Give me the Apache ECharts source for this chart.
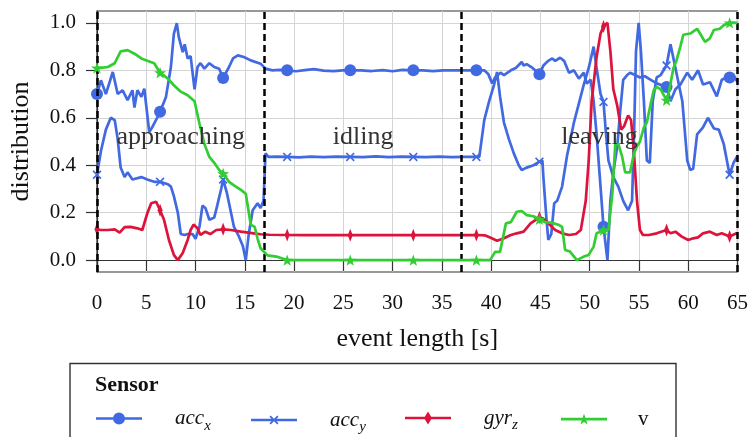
<!DOCTYPE html>
<html>
<head>
<meta charset="utf-8">
<script src="https://cdn.jsdelivr.net/npm/echarts@6/dist/echarts.min.js"></script>
<style>
  html, body { margin: 0; padding: 0; background: #fff; }
  #chart { width: 751px; height: 437px; }
</style>
</head>
<body>
<div id="chart"></div>
<script>
// Sample times [s] that carry a marker on every sensor trace
const markerTimes = [0, 6.4, 12.8, 19.3, 25.7, 32.1, 38.5, 44.9, 51.4, 57.8, 64.2];

// Phase boundaries [s] and phase names
const phaseBounds = [0, 17, 37, 65];
const phaseNames = ['approaching', 'idling', 'leaving'];
const phaseLabelY = 0.52;

// y-axis tick values
const yTicks = [0, 0.2, 0.4, 0.6, 0.8, 1.0];

// acc_x: [time s, distribution]
const accX = [
  [0,0.70],[0.4,0.758],[0.9,0.70],[1.6,0.793],[2.1,0.70],[2.6,0.716],[3.1,0.674],[3.6,0.716],[3.8,0.643],
  [4.1,0.716],[4.5,0.688],[4.8,0.723],[5.3,0.54],[5.6,0.56],[6.1,0.60],[6.4,0.625],[7.0,0.688],[7.5,0.814],
  [7.8,0.954],[8.1,0.999],[8.3,0.94],[8.7,0.877],[8.9,0.91],[9.2,0.85],[9.5,0.86],[9.9,0.72],[10.2,0.814],
  [10.5,0.83],[10.9,0.807],[11.4,0.83],[11.9,0.814],[12.4,0.807],[12.8,0.768],[13.4,0.814],[13.8,0.85],
  [14.3,0.863],[14.9,0.856],[15.6,0.842],[16.6,0.828],[17.1,0.807],[17.8,0.80],[18.5,0.802],[19.3,0.80],
  [20.2,0.796],[21.1,0.801],[22.0,0.805],[23.0,0.799],[24.0,0.797],[24.9,0.80],[25.7,0.80],[26.8,0.80],
  [27.9,0.797],[29.0,0.801],[30.0,0.796],[31.0,0.802],[32.1,0.80],[33.1,0.80],[34.1,0.797],[35.1,0.80],
  [36.1,0.80],[37.2,0.80],[38.5,0.80],[39.3,0.80],[39.7,0.785],[40.1,0.745],[40.4,0.77],[40.95,0.79],
  [41.3,0.78],[42.0,0.80],[42.5,0.81],[43.1,0.835],[43.3,0.82],[43.6,0.826],[44.2,0.81],[44.9,0.783],
  [45.3,0.82],[45.8,0.84],[46.2,0.85],[46.5,0.84],[47.0,0.853],[47.4,0.84],[47.9,0.79],[48.4,0.80],
  [48.9,0.765],[49.4,0.79],[49.7,0.744],[50.1,0.76],[50.4,0.67],[50.7,0.53],[51.1,0.31],[51.4,0.141],
  [51.8,0.0],[52.1,0.25],[52.4,0.37],[52.8,0.48],[53.1,0.63],[53.4,0.76],[53.8,0.78],[54.1,0.79],
  [54.6,0.78],[55.1,0.77],[55.6,0.775],[56.2,0.76],[56.8,0.745],[57.8,0.73],[58.2,0.67],[58.7,0.72],
  [59.2,0.74],[59.9,0.79],[60.4,0.76],[61.0,0.80],[61.5,0.74],[62.2,0.75],[62.9,0.69],[63.4,0.76],
  [63.9,0.77],[64.2,0.77],[64.6,0.78],[65,0.75]
];

// acc_y: [time s, distribution]
const accY = [
  [0,0.36],[0.4,0.46],[0.9,0.55],[1.4,0.60],[1.8,0.59],[2.1,0.51],[2.4,0.39],[2.8,0.35],[3.1,0.37],
  [3.6,0.34],[4.5,0.35],[5.1,0.34],[5.8,0.33],[6.4,0.33],[7.2,0.32],[7.5,0.31],[7.8,0.27],[8.2,0.20],
  [8.5,0.11],[8.9,0.106],[9.2,0.11],[9.7,0.11],[10.0,0.09],[10.4,0.14],[10.7,0.23],[11.0,0.22],[11.4,0.17],
  [11.9,0.18],[12.2,0.23],[12.6,0.30],[12.8,0.34],[13.2,0.28],[13.6,0.20],[13.9,0.14],[14.4,0.10],
  [14.8,0.06],[15.1,0.0],[15.4,0.11],[15.8,0.21],[16.3,0.24],[16.6,0.22],[16.9,0.25],[17.1,0.45],
  [17.4,0.435],[18.2,0.436],[19.3,0.435],[20.5,0.433],[21.7,0.436],[23.0,0.434],[24.3,0.436],[25.7,0.435],
  [27.0,0.434],[28.3,0.437],[29.6,0.434],[30.9,0.436],[32.1,0.435],[33.4,0.434],[34.7,0.436],[36.0,0.434],
  [37.3,0.435],[38.5,0.435],[38.8,0.435],[39.3,0.59],[39.8,0.67],[40.3,0.74],[40.6,0.793],[40.9,0.69],
  [41.3,0.58],[41.8,0.51],[42.3,0.45],[42.8,0.40],[43.1,0.38],[43.6,0.39],[44.3,0.40],[44.9,0.415],
  [45.2,0.42],[45.3,0.35],[45.6,0.18],[45.8,0.085],[46.1,0.11],[46.4,0.24],[46.7,0.25],[47.2,0.31],
  [47.7,0.44],[48.4,0.58],[48.9,0.66],[49.4,0.74],[49.9,0.81],[50.4,0.90],[50.7,0.81],[51.1,0.70],
  [51.4,0.667],[51.6,0.56],[51.9,0.42],[52.4,0.35],[52.9,0.31],[53.4,0.25],[53.9,0.21],[54.3,0.25],
  [54.5,0.53],[54.7,0.88],[54.97,1.0],[55.2,0.88],[55.5,0.67],[55.8,0.42],[56.1,0.41],[56.4,0.67],
  [56.8,0.77],[57.2,0.78],[57.8,0.82],[58.2,0.91],[58.7,0.81],[59.4,0.67],[59.9,0.42],[60.2,0.38],
  [60.5,0.385],[60.9,0.53],[61.5,0.56],[62.0,0.60],[62.6,0.555],[63.1,0.55],[63.6,0.49],[64.2,0.36],
  [64.6,0.41],[65,0.44]
];

// gyr_z: [time s, distribution]
const gyrZ = [
  [0,0.13],[0.4,0.127],[1.1,0.127],[1.8,0.13],[2.3,0.116],[2.8,0.139],[3.4,0.14],[4.1,0.134],[4.6,0.127],
  [5.1,0.197],[5.5,0.24],[6.0,0.246],[6.4,0.21],[6.8,0.17],[7.3,0.085],[7.8,0.022],[8.2,0.0],[8.7,0.03],
  [9.2,0.085],[9.5,0.127],[9.8,0.15],[10.2,0.134],[10.5,0.106],[11.0,0.12],[11.5,0.11],[12.1,0.127],
  [12.8,0.13],[13.6,0.127],[14.6,0.12],[15.9,0.113],[16.6,0.109],[17.5,0.107],[19.3,0.106],[21.0,0.105],
  [23.0,0.106],[25.7,0.105],[28.0,0.106],[30.0,0.105],[32.1,0.105],[34.0,0.106],[36.0,0.105],[38.5,0.106],
  [39.4,0.104],[39.9,0.095],[40.6,0.082],[41.3,0.092],[42.0,0.106],[42.6,0.113],[43.3,0.12],[44.0,0.155],
  [44.9,0.18],[45.3,0.175],[45.8,0.155],[46.5,0.127],[47.2,0.113],[47.9,0.106],[48.6,0.11],[49.1,0.127],
  [49.6,0.25],[49.9,0.42],[50.2,0.67],[50.7,0.856],[51.1,0.955],[51.4,0.985],[51.8,1.0],[52.1,0.88],
  [52.4,0.72],[52.8,0.65],[53.2,0.55],[53.5,0.565],[53.9,0.61],[54.2,0.59],[54.5,0.45],[54.8,0.25],
  [55.1,0.127],[55.4,0.106],[56.0,0.106],[56.8,0.113],[57.8,0.127],[58.2,0.113],[58.7,0.12],[59.3,0.10],
  [60.0,0.085],[60.5,0.092],[61.0,0.096],[61.5,0.113],[62.2,0.12],[62.9,0.106],[63.4,0.113],[64.2,0.10],
  [64.9,0.113],[65,0.11]
];

// v: [time s, distribution]
const speed = [
  [0,0.81],[0.4,0.81],[1.1,0.814],[1.8,0.83],[2.4,0.88],[3.1,0.885],[3.8,0.87],[4.5,0.85],[5.1,0.84],
  [5.8,0.83],[6.4,0.79],[7.2,0.765],[7.8,0.737],[8.5,0.71],[9.2,0.695],[9.9,0.67],[10.4,0.575],[10.9,0.49],
  [11.4,0.435],[11.9,0.41],[12.4,0.38],[12.8,0.365],[13.4,0.33],[13.9,0.315],[14.6,0.296],[15.1,0.28],
  [15.6,0.15],[16.0,0.14],[16.3,0.09],[16.6,0.05],[17.3,0.02],[18.2,0.015],[19.3,0.0],[25.7,0.0],[32.1,0.0],
  [38.5,0.0],[39.9,0.0],[40.4,0.035],[40.9,0.035],[41.5,0.155],[42.0,0.16],[42.6,0.204],[43.1,0.207],
  [43.6,0.19],[44.3,0.185],[44.9,0.172],[45.5,0.16],[46.2,0.157],[46.9,0.148],[47.2,0.14],[47.5,0.043],
  [48.0,0.036],[48.7,0.0],[49.4,0.015],[49.9,0.022],[50.4,0.057],[50.7,0.113],[51.1,0.12],[51.4,0.127],
  [51.9,0.127],[52.3,0.28],[52.6,0.49],[52.9,0.49],[53.3,0.435],[53.6,0.37],[54.1,0.37],[54.5,0.45],
  [54.8,0.48],[55.1,0.50],[55.5,0.56],[55.8,0.58],[56.2,0.66],[56.5,0.716],[56.8,0.73],[57.2,0.72],
  [57.8,0.674],[58.0,0.70],[58.5,0.81],[58.8,0.84],[59.2,0.90],[59.5,0.95],[60.2,0.955],[60.9,0.975],
  [61.2,0.955],[61.7,0.92],[62.2,0.935],[62.6,0.97],[63.2,0.975],[63.6,0.99],[64.2,1.0],[65,1.0]
];

const BLUE = '#4169E1';
const RED = '#DC143C';
const GREEN = '#32CD32';
const SERIF = '"Liberation Serif", "Times New Roman", serif';

// Marker shapes (in-plot)
const X_MARK = 'path://M0,1.2 L1.2,0 L4.5,3.3 L7.8,0 L9,1.2 L5.7,4.5 L9,7.8 L7.8,9 L4.5,5.7 L1.2,9 L0,7.8 L3.3,4.5 Z';
const DIAMOND = 'path://M4,0 L8,6.5 L4,13 L0,6.5 Z';
const STAR = 'path://M6,0 L7.411,4.058 L11.706,4.146 L8.283,6.742 L9.527,10.854 L6,8.4 L2.473,10.854 L3.717,6.742 L0.294,4.146 L4.589,4.058 Z';

// Legend icons: line segment with the marker in its middle
const LEG_CIRCLE = 'path://M0,4.7 H46 V7.3 H0 Z M17,6 A6,6 0 1,1 29,6 A6,6 0 1,1 17,6 Z';
const LEG_X = 'path://M0,3.2 H46 V5.8 H0 Z M18.5,1.2 L19.7,0 L23,3.3 L26.3,0 L27.5,1.2 L24.2,4.5 L27.5,7.8 L26.3,9 L23,5.7 L19.7,9 L18.5,7.8 L21.8,4.5 Z';
const LEG_DIAMOND = 'path://M0,5.2 H46 V7.8 H0 Z M23,0 L27,6.5 L23,13 L19,6.5 Z';
const LEG_STAR = 'path://M0,4.2 H46 V6.8 H0 Z M23,0 L24.411,4.058 L28.706,4.146 L25.283,6.742 L26.527,10.854 L23,8.4 L19.473,10.854 L20.717,6.742 L17.294,4.146 L21.589,4.058 Z';

function isMarked(t) {
  return markerTimes.some(m => Math.abs(m - t) < 1e-6);
}
function withMarkers(points) {
  return points.map(([t, v]) => isMarked(t) ? [t, v] : { value: [t, v], symbol: 'none' });
}

function sensorSeries(name, points, color, symbol, symbolSize, z) {
  return {
    name, type: 'line', data: withMarkers(points),
    symbol, symbolSize, symbolKeepAspect: true, showAllSymbol: true,
    lineStyle: { color, width: 2.7 },
    itemStyle: { color, borderWidth: 0 },
    emphasis: { disabled: true },
    z, animation: false
  };
}

const rich = {
  gap: { width: 28 },
  gap2: { width: 26 },
  i: { fontFamily: SERIF, fontStyle: 'italic', fontSize: 21, color: '#111', lineHeight: 30, verticalAlign: 'middle' },
  s: { fontFamily: SERIF, fontStyle: 'italic', fontSize: 15, color: '#111', lineHeight: 30, verticalAlign: 'bottom' },
  r: { fontFamily: SERIF, fontSize: 21, color: '#111', lineHeight: 30, verticalAlign: 'middle' }
};

function legendFor(name, icon, left, h, text) {
  return {
    data: [{ name, icon }],
    left, top: 414 - h / 2,
    itemWidth: 46, itemHeight: h,
    itemStyle: { borderWidth: 0 },
    selectedMode: false,
    padding: 0,
    formatter: () => text,
    textStyle: { rich }
  };
}

const chart = echarts.init(document.getElementById('chart'), null, { renderer: 'canvas' });

chart.setOption({
  animation: false,
  backgroundColor: '#fff',
  grid: {
    left: 96, right: 13, top: 11, bottom: 165,
    show: true, borderColor: '#333', borderWidth: 1.2, backgroundColor: 'transparent'
  },
  xAxis: {
    type: 'value', min: 0, max: 65, interval: 5,
    name: 'event length [s]', nameLocation: 'middle', nameGap: 54,
    nameTextStyle: { fontFamily: SERIF, fontSize: 26, color: '#111' },
    axisLine: { show: true, lineStyle: { color: '#333', width: 1.2 } },
    axisTick: { show: true, length: 11, lineStyle: { color: '#333', width: 1.2 } },
    axisLabel: { fontFamily: SERIF, fontSize: 21, color: '#111', margin: 21 },
    splitLine: { show: true, lineStyle: { color: '#d4d4d4', width: 1 } }
  },
  yAxis: {
    type: 'value', min: -0.05, max: 1.05,
    name: 'distribution', nameLocation: 'middle', nameGap: 63, nameRotate: 90,
    nameTextStyle: { fontFamily: SERIF, fontSize: 26, color: '#111' },
    axisLine: { show: true, lineStyle: { color: '#333', width: 1.2 } },
    axisTick: { show: true, length: 11, customValues: yTicks, lineStyle: { color: '#333', width: 1.2 } },
    axisLabel: { fontFamily: SERIF, fontSize: 21, color: '#111', margin: 21, customValues: yTicks,
                 formatter: v => v.toFixed(1) },
    splitLine: { show: true, customValues: yTicks, lineStyle: { color: '#d4d4d4', width: 1 } }
  },
  legend: [
    legendFor('acc_x', LEG_CIRCLE, 96, 12, '{gap| }{i|acc}{s|x}'),
    legendFor('acc_y', LEG_X, 251, 9, '{gap| }{i|acc}{s|y}'),
    legendFor('gyr_z', LEG_DIAMOND, 405, 13, '{gap| }{i|gyr}{s|z}'),
    legendFor('v', LEG_STAR, 561, 10.854, '{gap2| }{r|v}')
  ],
  graphic: [
    { type: 'rect', shape: { x: 70, y: 363.5, width: 606, height: 90 },
      style: { fill: 'none', stroke: '#333', lineWidth: 1.4 }, silent: true },
    { type: 'text', left: 95, top: 374,
      style: { text: 'Sensor', font: `bold 22px ${SERIF}`, fill: '#111' }, silent: true }
  ],
  series: [
    sensorSeries('acc_x', accX, BLUE, 'circle', 12, 2),
    sensorSeries('acc_y', accY, BLUE, X_MARK, 9, 3),
    sensorSeries('gyr_z', gyrZ, RED, DIAMOND, [8, 13], 4),
    sensorSeries('v', speed, GREEN, STAR, 12, 5),
    {
      name: 'phases', type: 'scatter', z: 10, silent: true,
      symbol: 'circle', symbolSize: 2, itemStyle: { color: 'rgba(0,0,0,0)' },
      data: phaseNames.map((n, k) => ({
        name: n, value: [(phaseBounds[k] + phaseBounds[k + 1]) / 2, phaseLabelY]
      })),
      label: { show: true, position: 'inside', formatter: '{b}',
               fontFamily: SERIF, fontSize: 26, color: '#333', opacity: 1 },
      markLine: {
        silent: true, symbol: ['none', 'none'],
        label: { show: false },
        lineStyle: { color: '#000', type: [7, 4], width: 2.5 },
        data: phaseBounds.map(b => ({ xAxis: b }))
      }
    }
  ]
});
</script>
</body>
</html>
